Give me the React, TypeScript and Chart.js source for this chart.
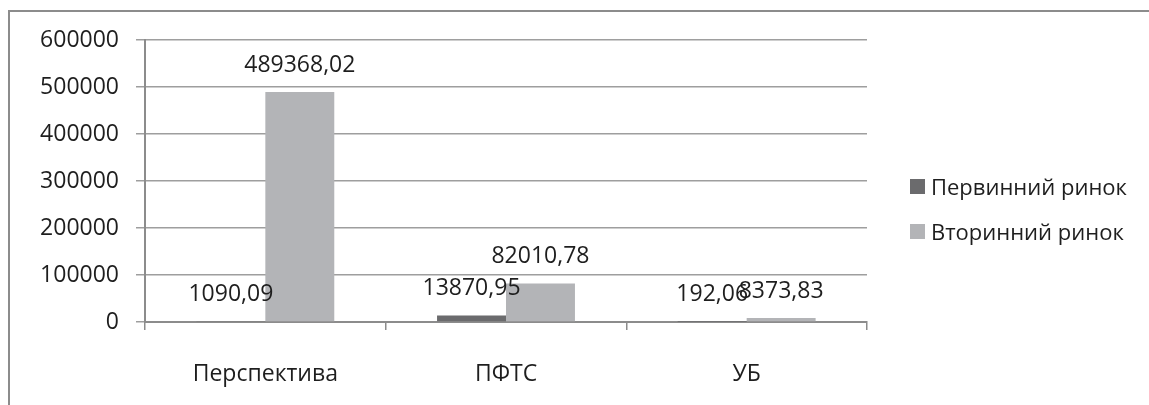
import React, { useEffect, useRef } from "react";
import { Chart, registerables } from "chart.js";

Chart.register(...registerables);

const categories = ["Перспектива", "ПФТС", "УБ"];
const seriesNames = ["Первинний ринок", "Вторинний ринок"];
const primaryValues = [1090.09, 13870.95, 192.06];
const secondaryValues = [489368.02, 82010.78, 8373.83];
const seriesColors = ["#6b6b6d", "#b3b4b7"];
const yMax = 600000;
const yStep = 100000;

const FONT = "'Open Sans', 'Noto Sans', sans-serif";
const FONT_SIZE = 23;
const TEXT_COLOR = "#1e1e1e";

const fmt = (v: number) => v.toFixed(2).replace(".", ",");

const valueLabels = {
  id: "valueLabels",
  afterDatasetsDraw(chart: any) {
    const ctx = chart.ctx;
    ctx.save();
    ctx.font = `${FONT_SIZE}px ${FONT}`;
    ctx.fillStyle = TEXT_COLOR;
    ctx.textAlign = "center";
    ctx.textBaseline = "middle";
    chart.data.datasets.forEach((ds: any, i: number) => {
      const meta = chart.getDatasetMeta(i);
      meta.data.forEach((bar: any, j: number) => {
        const { x, y } = bar.getProps(["x", "y"], true);
        ctx.fillText(fmt(ds.data[j]), x, y - 27);
      });
    });
    ctx.restore();
  },
};

export default function App() {
  const ref = useRef<HTMLCanvasElement | null>(null);

  useEffect(() => {
    if (!ref.current) return;
    const chart = new Chart(ref.current, {
      type: "bar",
      data: {
        labels: categories,
        datasets: [
          {
            label: seriesNames[0],
            data: primaryValues,
            backgroundColor: seriesColors[0],
            categoryPercentage: 0.573,
            barPercentage: 1,
          },
          {
            label: seriesNames[1],
            data: secondaryValues,
            backgroundColor: seriesColors[1],
            categoryPercentage: 0.573,
            barPercentage: 1,
          },
        ],
      },
      options: {
        animation: false,
        responsive: false,
        devicePixelRatio: 1,
        layout: { padding: { left: 0, right: 282, top: 40, bottom: 0 } },
        plugins: {
          legend: { display: false },
          tooltip: { enabled: false },
        },
        scales: {
          x: {
            afterFit: (s: any) => {
              s.height = 405 - 322;
            },
            grid: {
              display: true,
              drawOnChartArea: false,
              drawTicks: true,
              tickLength: 8,
              color: "#8c8c8c",
              lineWidth: 1.5,
              offset: true,
            },
            border: { display: true, color: "#8c8c8c", width: 2 },
            ticks: {
              color: TEXT_COLOR,
              font: { family: FONT, size: FONT_SIZE },
              padding: 31,
            },
          },
          y: {
            min: 0,
            max: yMax,
            afterFit: (s: any) => {
              s.width = 145;
            },
            grid: {
              color: "#9e9e9e",
              lineWidth: 1.5,
              drawTicks: true,
              tickLength: 9,
            },
            border: { display: true, color: "#8c8c8c", width: 2 },
            ticks: {
              stepSize: yStep,
              color: TEXT_COLOR,
              font: { family: FONT, size: FONT_SIZE },
              padding: 17,
              callback: (v: any) => String(v),
            },
          },
        },
      },
      plugins: [valueLabels],
    });
    return () => chart.destroy();
  }, []);

  const legendTops = [186, 231];

  return (
    <div
      style={{
        position: "absolute",
        left: 0,
        top: 0,
        width: 1149,
        height: 405,
        overflow: "hidden",
        background: "#fff",
      }}
    >
      <div
        style={{
          position: "absolute",
          left: 8,
          top: 10,
          width: 1160,
          height: 420,
          borderLeft: "2px solid #8c8c8c",
          borderTop: "2px solid #8c8c8c",
          boxSizing: "border-box",
        }}
      />
      <canvas
        ref={ref}
        width={1149}
        height={405}
        style={{ position: "absolute", left: 0, top: 0, width: 1149, height: 405 }}
      />
      {seriesNames.map((name, i) => (
        <div
          key={name}
          style={{
            position: "absolute",
            left: 910,
            top: legendTops[i] - 16,
            height: 32,
            display: "flex",
            alignItems: "center",
            fontFamily: FONT,
            fontSize: 22,
            color: TEXT_COLOR,
            whiteSpace: "nowrap",
          }}
        >
          <span
            style={{
              display: "inline-block",
              width: 15,
              height: 15,
              background: seriesColors[i],
              marginRight: 6,
            }}
          />
          <span>{name}</span>
        </div>
      ))}
    </div>
  );
}
